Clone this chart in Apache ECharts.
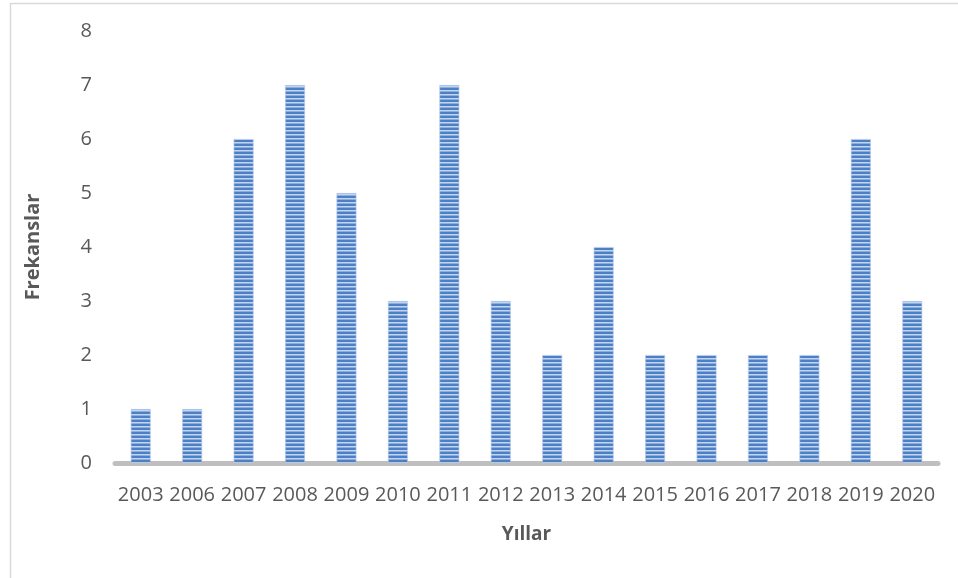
<!DOCTYPE html>
<html>
<head>
<meta charset="utf-8">
<script src="https://cdn.jsdelivr.net/npm/echarts@6/dist/echarts.min.js"></script>
<style>
html,body{margin:0;padding:0;background:#fff;}
#c{width:958px;height:578px;}
</style>
</head>
<body>
<div id="c"></div>
<script>
const categories = ['2003','2006','2007','2008','2009','2010','2011','2012','2013','2014','2015','2016','2017','2018','2019','2020'];
const frequencies = [1,1,6,7,5,3,7,3,2,4,2,2,2,2,6,3];
const yTicks = {min:0, max:8, interval:1};
const xTitle = 'Yıllar';
const yTitle = 'Frekanslar';

// striped pattern
const pc = document.createElement('canvas');
pc.width = 4; pc.height = 4;
const pctx = pc.getContext('2d');
pctx.fillStyle = '#4d7fc4'; pctx.fillRect(0,0,4,2);
pctx.fillStyle = '#c3d5ee'; pctx.fillRect(0,2,4,1);
pctx.fillStyle = '#8aaedd'; pctx.fillRect(0,3,4,1);

const chart = echarts.init(document.getElementById('c'));
chart.setOption({
  animation:false,
  backgroundColor:'#fff',
  graphic:[{type:'rect',shape:{x:10.5,y:3.5,width:1200,height:1200},style:{fill:'none',stroke:'#d9d9d9',lineWidth:1.5},z:-1}],
  grid:{left:115,right:20,top:31,bottom:115},
  xAxis:{
    type:'category', data:categories,
    name:xTitle, nameLocation:'middle', nameGap:62,
    nameTextStyle:{fontFamily:'Open Sans',fontWeight:'bold',fontSize:19,color:'#595959'},
    axisLine:{lineStyle:{color:'#bfbfbf',width:5}},
    axisTick:{show:false},
    axisLabel:{fontFamily:'Open Sans',fontSize:20,color:'#595959',margin:22,interval:0}
  },
  yAxis:{
    type:'value', min:yTicks.min, max:yTicks.max, interval:yTicks.interval,
    name:yTitle, nameLocation:'middle', nameGap:72,
    nameTextStyle:{fontFamily:'Open Sans',fontWeight:'bold',fontSize:20,color:'#595959'},
    axisLine:{show:false}, axisTick:{show:false}, splitLine:{show:false},
    axisLabel:{fontFamily:'Open Sans',fontSize:20,color:'#595959',margin:23}
  },
  series:[{
    type:'bar', data:frequencies, barWidth:'39%',
    itemStyle:{color:{image:pc,repeat:'repeat'},borderColor:'rgba(180,200,235,0.8)',borderWidth:0.8}
  }]
});
</script>
</body>
</html>
